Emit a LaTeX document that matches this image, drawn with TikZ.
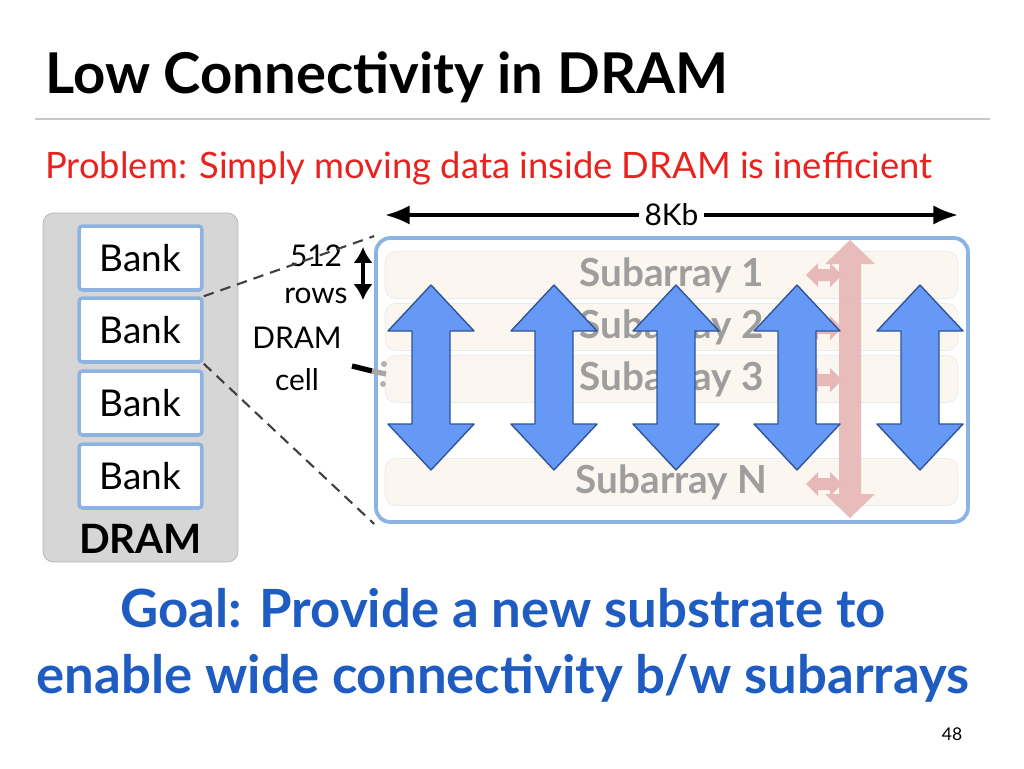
\documentclass[tikz,border=0pt]{standalone}
\usepackage{fontspec}
\setmainfont{Lato}
\usetikzlibrary{arrows.meta}

\definecolor{boxblue}{HTML}{8DB3E2}
\definecolor{arrowblue}{HTML}{6699F5}
\definecolor{arrowedge}{HTML}{2F5597}
\definecolor{pinkish}{HTML}{E6B9B8}
\definecolor{cream}{HTML}{FBF6EF}
\definecolor{goalblue}{HTML}{1F5CC2}
\definecolor{probred}{HTML}{E8231F}

\tikzset{
    bank/.style={draw=boxblue, line width=2pt, fill=white, rounded corners=2pt,
        minimum width=2.46cm, minimum height=1.28cm, font=\fontsize{21}{24}\selectfont},
    subarr/.style={draw=black!8, fill=cream, rounded corners=6pt,
        minimum width=11.46cm, minimum height=0.88cm,
        text=black!38, font=\fontsize{22}{24}\selectfont\bfseries},
    label/.style={font=\fontsize{17}{20}\selectfont, inner sep=1pt},
    goal/.style={text=goalblue, font=\fontsize{30}{34}\selectfont\bfseries}
}

\begin{document}
\begin{tikzpicture}[x=0.02cm, y=-0.02cm]
        \useasboundingbox (0,0) rectangle (1024,768);

        % title and problem line
        \node[anchor=base west, inner sep=0pt, font=\fontsize{32}{36}\selectfont\bfseries] (title) at (45,93) {Low Connectivity in DRAM};
        \draw[black!22, line width=1.2pt] (35,119) -- (990,119);
        \node[anchor=base west, inner sep=0pt, text=probred, font=\fontsize{20.7}{24}\selectfont] (problem) at (45,178)
            {Problem: Simply moving data inside DRAM is inefficient};

        % DRAM chip with banks
        \node[draw=black!30, fill=black!16, rounded corners=6pt, minimum width=3.9cm, minimum height=6.98cm] (dram) at (140.5,387.5) {};
        \foreach \y [count=\i] in {258,330,403,476}
            {
                \node[bank] (bank\i) at (140.5,\y) {Bank};
            }
        \node[font=\fontsize{23}{26}\selectfont\bfseries] (dramlabel) at (140.5,539) {DRAM};

        % zoomed bank
        \node[draw=boxblue, line width=2.2pt, fill=white, rounded corners=8pt, minimum width=11.84cm, minimum height=5.68cm] (subbox) at (672,380) {};
        \foreach \y/\t in {275/1,327/2,379/3,482/N}
            {
                \node[subarr] (sa\t) at (671.5,\y) {Subarray \t};
            }

        % row buffer movement (pink)
        \foreach \y in {275,328,380,484}
            {
                \fill[pinkish] (806,\y) -- (818,\y-12) -- (818,\y-6) -- (830,\y-6) -- (830,\y-12) -- (842,\y)
                    -- (830,\y+12) -- (830,\y+6) -- (818,\y+6) -- (818,\y+12) -- cycle;
            }
        \fill[pinkish, opacity=0.95] (850,240) -- (875,264) -- (861,264) -- (861,494) -- (875,494) -- (850,518)
            -- (825,494) -- (839,494) -- (839,264) -- (825,264) -- cycle;

        % wide connectivity (blue)
        \foreach \x in {431,554,676,797,920}
            {
                \draw[arrowedge, fill=arrowblue, line width=0.8pt, line join=round]
                    (\x,285) -- (\x+43,331) -- (\x+19,331) -- (\x+19,424) -- (\x+43,424) -- (\x,470)
                    -- (\x-43,424) -- (\x-19,424) -- (\x-19,331) -- (\x-43,331) -- cycle;
            }

        % dimensions and labels
        \coordinate (wl) at (385,215);
        \coordinate (wr) at (958,215);
        \draw[{Latex[length=14pt,width=11pt]}-{Latex[length=14pt,width=11pt]}, line width=2pt] (wl) -- node[fill=white, label, inner sep=3pt] (kb) {8Kb} (wr);
        \coordinate (rt) at (363,247);
        \coordinate (rb) at (363,300);
        \draw[{Latex[length=9pt,width=11pt]}-{Latex[length=9pt,width=11pt]}, line width=2pt] (rt) -- (rb);
        \node[label] (rows) at (316,256) {512};
        \node[label] (rows2) at (316,296) {rows};
        \node[label] (cell) at (297,338) {DRAM};
        \node[label] (cell2) at (297,380) {cell};
        \coordinate (ct) at (372,371);
        \draw[line width=3pt] (352,366) -- (ct);
        \draw[black!35, line width=3pt] (ct) -- (386,374);
        \fill[black!30] (384,364) circle (3) (383,384) circle (3);

        % zoom lines
        \draw[dash pattern=on 6pt off 4pt, black!75, line width=1.2pt] (bank2.north east) -- (subbox.north west);
        \draw[dash pattern=on 6pt off 4pt, black!75, line width=1.2pt] (bank2.south east) -- (subbox.south west);

        % goal
        \node[goal] (goal1) at (503,608) {Goal: Provide a new substrate to};
        \node[goal] (goal2) at (503,678) {enable wide connectivity b/w subarrays};
        \node[font=\fontsize{10}{12}\selectfont] (page) at (952,734) {48};
    \end{tikzpicture}
\end{document}
